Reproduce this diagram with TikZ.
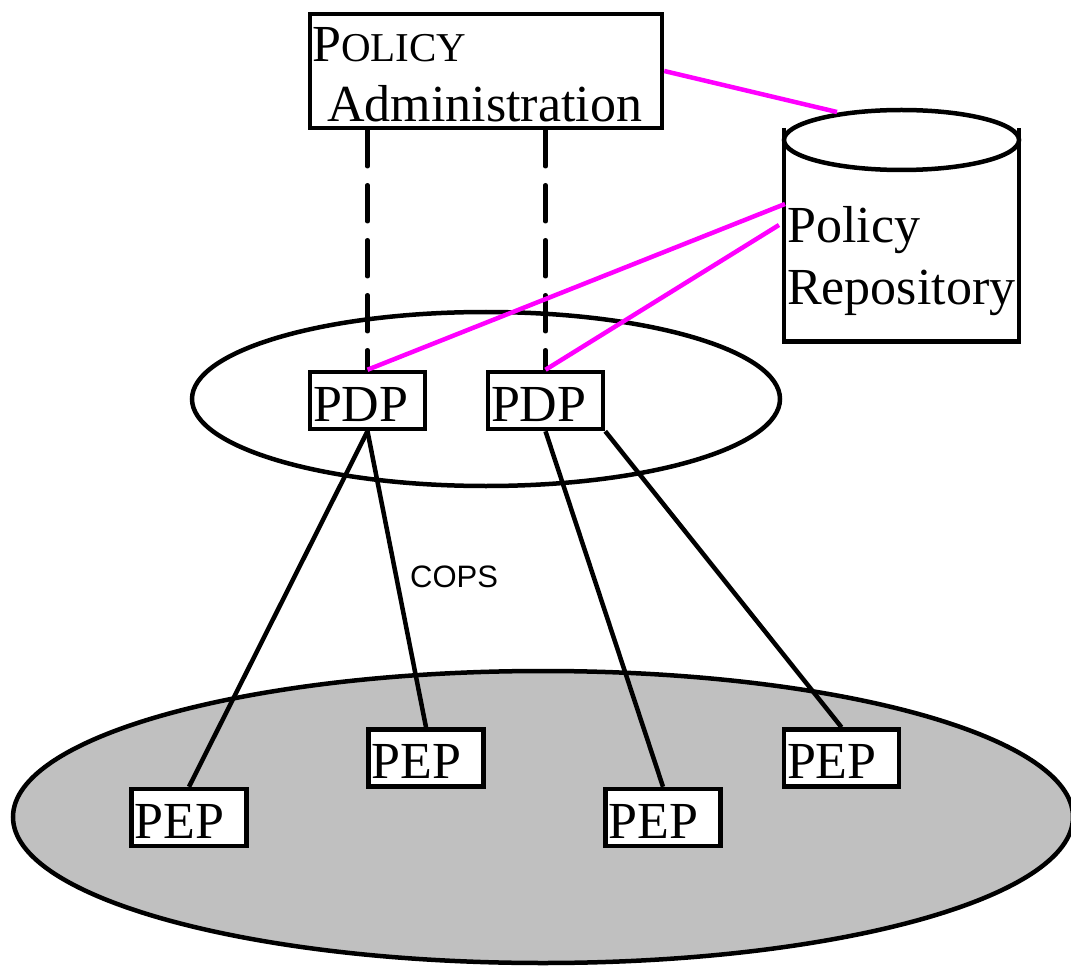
\documentclass[tikz,border=0pt]{standalone}
\usepackage{fontspec}
\setmainfont{Liberation Serif}
\newfontfamily\copsfont{Liberation Sans}
\usetikzlibrary{shapes.geometric}
\definecolor{mag}{RGB}{255,0,255}
\definecolor{netgray}{RGB}{192,192,192}
\begin{document}
\begin{tikzpicture}[x=1pt,y=-1pt,
  every node/.style={font=\fontsize{52}{60}\selectfont},
  thick line/.style={line width=4.5pt},
  dashline/.style={line width=4.5pt, dash pattern=on 36pt off 19pt, line cap=round},
  magline/.style={line width=4.5pt, draw=mag},
  smallbox/.style={draw, line width=4.5pt, fill=white, rectangle,
    minimum width=115pt, minimum height=57pt, inner xsep=3pt, inner ysep=0pt,
    text width=109pt, align=left, text height=49pt, text depth=8pt},
  plaintext/.style={anchor=base west, inner sep=0pt},
]
\useasboundingbox (0,0) rectangle (1071,968);

% domains
\node[ellipse, draw, line width=4.5pt, fill=netgray, minimum width=1060pt,
  minimum height=292pt, inner sep=0pt] (net) at (543,817) {};
\node[ellipse, draw, line width=4.5pt, fill=white, minimum width=588pt,
  minimum height=174pt, inner sep=0pt] (dom) at (486,399) {};

% policy administration
\node[draw, line width=4.5pt, rectangle, minimum width=352pt, minimum height=114pt,
  inner sep=0pt] (pa) at (486,71) {};
\node[plaintext] (pat1) at (312,62) {P\fontsize{41}{41}\selectfont OLICY};
\node[plaintext] (pat2) at (327,122) {Administration};

% policy repository (cylinder)
\draw[thick line] (784,128) -- (784,341.5) -- (1019,341.5) -- (1019,128);
\draw[thick line, fill=white] (901.5,140) ellipse [x radius=117.5, y radius=30];
\node[plaintext] (rep1) at (787,243) {Policy};
\node[plaintext] (rep2) at (787,305) {Repository};
\coordinate (repoTop) at (837,112);
\coordinate (repoA) at (785,204);
\coordinate (repoB) at (779,225);

% PDPs and PEPs
\node[smallbox] (pdp1) at (367.5,400.5) {PDP};
\node[smallbox] (pdp2) at (545.5,400.5) {PDP};
\node[smallbox] (pep1) at (189,817.5) {PEP};
\node[smallbox] (pep2) at (426,758) {PEP};
\node[smallbox] (pep3) at (663,817.5) {PEP};
\node[smallbox] (pep4) at (841.5,758) {PEP};

% connectors
\draw[dashline] (pa.south -| pdp1.north) -- (pdp1.north);
\draw[dashline] (pa.south -| pdp2.north) -- (pdp2.north);
\draw[thick line] (pdp1.south) -- (pep1.north);
\draw[thick line] (pdp1.south) -- (pep2.north);
\draw[thick line] (pdp2.south) -- (pep3.north);
\draw[thick line] (pdp2.south east) -- (pep4.north);
\node[plaintext, font=\copsfont\fontsize{31}{31}\selectfont] (cops) at (410,587) {COPS};

\draw[magline] (pa.east) -- (repoTop);
\draw[magline] (repoA) -- (pdp1.north);
\draw[magline] (repoB) -- (pdp2.north);
\end{tikzpicture}
\end{document}
